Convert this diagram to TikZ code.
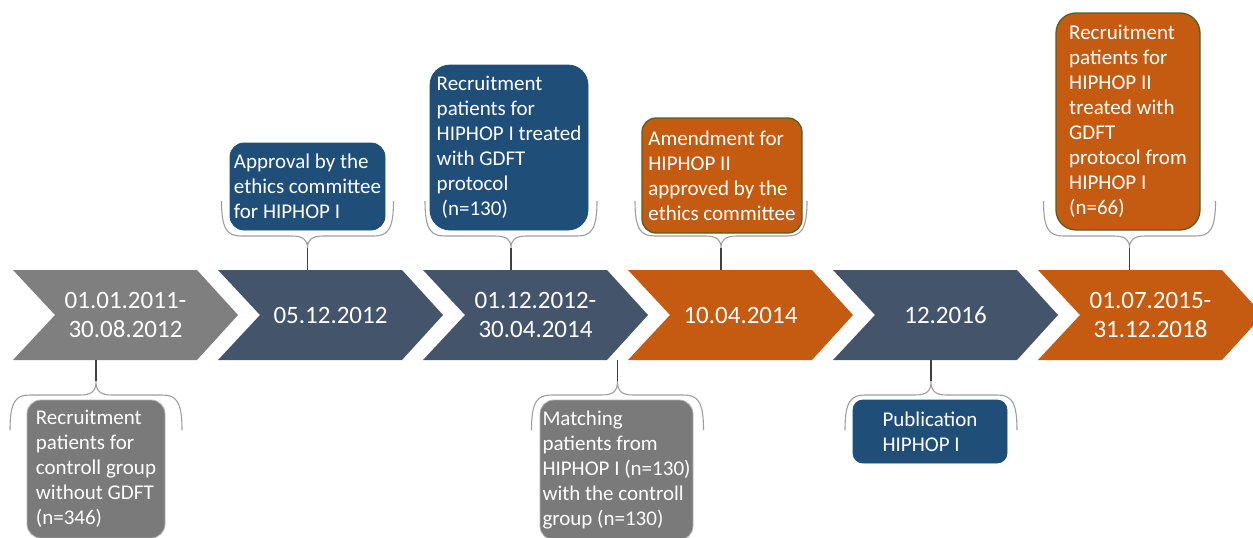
\documentclass[tikz,border=0pt]{standalone}
\usepackage{fontspec}
\setmainfont{Carlito}
\usepackage{tikz}
\usetikzlibrary{positioning,calc}

\definecolor{cgray}{HTML}{7F7F7F}
\definecolor{cslate}{HTML}{44546A}
\definecolor{corange}{HTML}{C55A11}
\definecolor{bblue}{HTML}{1F4E79}
\definecolor{bgray}{HTML}{7A7A7A}
\definecolor{bolive}{HTML}{4F6228}

\begin{document}
\begin{tikzpicture}[x=1pt, y=-1pt,
  datelbl/.style={text=white, align=center, font=\fontsize{25}{29}\selectfont, minimum width=184pt, minimum height=90pt, inner sep=0pt},
  note/.style={rounded corners=14pt, text=white, align=left, font=\fontsize{21}{25}\selectfont, inner sep=0pt, line width=0.8pt},
  brc/.style={draw=black!38, line width=1.1pt},
  stem/.style={draw=black!75, line width=1.4pt}
]
\clip (0,0) rectangle (1253,538);

% chevrons of the time line
\foreach \i/\col/\txt in {1/cgray/{01.01.2011-\\30.08.2012}, 2/cslate/{05.12.2012}, 3/cslate/{01.12.2012-\\30.04.2014},
  4/corange/{10.04.2014}, 5/cslate/{12.2016}, 6/corange/{01.07.2015-\\31.12.2018}}{
  \pgfmathsetmacro{\xl}{13+205*(\i-1)}
  \fill[\col] (\xl,270) -- ++(184,0) -- ++(41,45) -- ++(-41,45) -- ++(-184,0) -- ++(42,-45) -- cycle;
  \node[datelbl] (d\i) at (\xl+112.5,315) {\txt};
}

% braces above
\foreach \x/\d in {307.5/2, 511/3, 721/4, 1129.5/6}{
  \draw[brc] (\x-86,201) .. controls (\x-86,230) and (\x-80,236) .. (\x-66,236) -- (\x-16,236)
    .. controls (\x-4,236) and (\x,240) .. (\x,248) .. controls (\x,240) and (\x+4,236) .. (\x+16,236)
    -- (\x+66,236) .. controls (\x+80,236) and (\x+86,230) .. (\x+86,201);
  \coordinate (t\d) at (\x,248);
  \draw[stem] (t\d) -- (d\d.north -| t\d);
}

% braces below
\foreach \x/\d in {96/1, 617.5/3, 931/5}{
  \draw[brc] (\x-86,430) .. controls (\x-86,401) and (\x-80,395) .. (\x-66,395) -- (\x-16,395)
    .. controls (\x-4,395) and (\x,391) .. (\x,381) .. controls (\x,391) and (\x+4,395) .. (\x+16,395)
    -- (\x+66,395) .. controls (\x+80,395) and (\x+86,401) .. (\x+86,430);
  \coordinate (u\d) at (\x,381);
  \draw[stem] (u\d) -- (d\d.south -| u\d);
}

% notes
\node[note, fill=bgray, draw=black!30, minimum width=138pt, minimum height=138pt] (recctrl) at (96,469)
  {Recruitment\\patients for\\controll group\\without GDFT\\(n=346)};
\node[note, fill=bblue, draw=bblue, minimum width=155pt, minimum height=87pt] (ethics1) at (307.5,186.5)
  {Approval by the\\ethics committee\\for HIPHOP I};
\node[note, fill=bblue, draw=bblue, minimum width=158pt, minimum height=165pt, rounded corners=20pt] (rec1) at (509,147.5)
  {Recruitment\\patients for\\HIPHOP I treated\\with GDFT\\protocol\\\hspace*{5pt}(n=130)};
\node[note, fill=corange, draw=bolive, line width=1.3pt, minimum width=160pt, minimum height=115pt] (ethics2) at (722,175.5)
  {Amendment for\\HIPHOP II\\approved by the\\ethics committee};
\node[note, fill=corange, draw=bolive, line width=1.3pt, minimum width=144pt, minimum height=217pt, rounded corners=20pt] (rec2) at (1128,121.5)
  {Recruitment\\patients for\\HIPHOP II\\treated with\\GDFT\\protocol from\\HIPHOP I\\(n=66)};
\node[note, fill=bgray, draw=black!30, minimum width=153pt, minimum height=140pt] (match) at (616.5,470)
  {Matching\\patients from\\HIPHOP I (n=130)\\with the controll\\group (n=130)};
\node[note, fill=bblue, draw=bblue, minimum width=154pt, minimum height=63pt, rounded corners=10pt] (pub) at (930,431.5)
  {Publication\\HIPHOP I};
\end{tikzpicture}
\end{document}
